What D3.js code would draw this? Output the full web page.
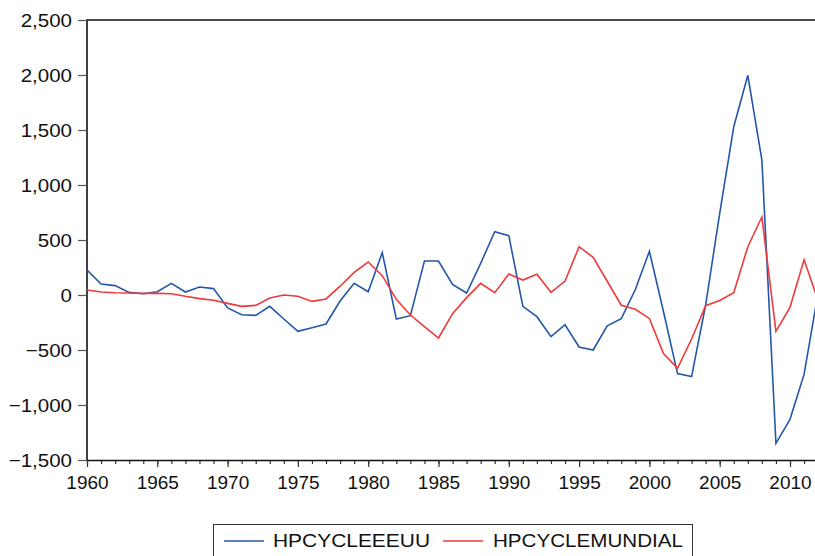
<!DOCTYPE html>
<html>
<head>
<meta charset="utf-8">
<script src="https://cdn.jsdelivr.net/npm/d3@7"></script>
<style>
  html, body { margin: 0; padding: 0; background: #fff; }
  svg { display: block; font-family: "Liberation Sans", Arial, sans-serif; }
</style>
</head>
<body>
<svg id="chart" width="815" height="556"></svg>
<script>
const years = d3.range(1960, 2013);
const hpEEUU = [
  227, 100, 85, 24, 12, 30, 106, 27, 73, 58,
  -118, -179, -185, -103, -218, -330, -297, -264, -55, 106,
  30, 385, -218, -188, 309, 309, 97, 18, 288, 576,
  539, -103, -197, -379, -270, -473, -500, -280, -215, 50,
  397, -150, -715, -742, -91, 742, 1530, 1997, 1227, -1348,
  -1130, -722, 20
];
const hpMundial = [
  45, 27, 21, 18, 15, 15, 12, -12, -33, -48,
  -76, -103, -94, -27, 0, -12, -58, -36, 80, 206,
  300, 176, -39, -182, -288, -391, -170, -24, 106, 21,
  191, 136, 188, 24, 127, 439, 342, 125, -93, -130,
  -213, -533, -667, -400, -97, -50, 21, 439, 709, -330,
  -112, 320, -50
];
const yTicks = [-1500, -1000, -500, 0, 500, 1000, 1500, 2000, 2500];
const xMajor = [1960, 1965, 1970, 1975, 1980, 1985, 1990, 1995, 2000, 2005, 2010];
const seriesNames = ["HPCYCLEEEUU", "HPCYCLEMUNDIAL"];
const seriesColors = ["#2457aa", "#ee3a3a"];

(function () {
const svg = d3.select("#chart");
const mLeft = 87, mTop = 20, mBottom = 460;
const x = d3.scaleLinear().domain([1960, 2012]).range([mLeft, mLeft + 52 * 14.06]);
const y = d3.scaleLinear().domain([-1500, 2500]).range([mBottom, mTop]);
const mRight = x(2012);

// frame
svg.append("path")
  .attr("d", `M${mLeft},${mBottom}V${mTop}H${mRight + 5}`)
  .attr("fill", "none").attr("stroke", "#111").attr("stroke-width", 1.6);

// y axis
const yAxis = d3.axisLeft(y).tickValues(yTicks).tickSize(9).tickPadding(6)
  .tickFormat(d3.format(","));
const gy = svg.append("g").attr("transform", `translate(${mLeft},0)`).call(yAxis);
gy.select(".domain").remove();
gy.selectAll(".tick line").attr("stroke", "#555").attr("stroke-width", 1.2);
gy.selectAll(".tick text").attr("font-size", 19).attr("fill", "#111")
  .attr("font-family", "Liberation Sans, Arial, sans-serif");

// x axis
const xAxisMinor = d3.axisBottom(x).tickValues(years).tickSize(4).tickFormat("");
const gxm = svg.append("g").attr("transform", `translate(0,${mBottom})`).call(xAxisMinor);
gxm.select(".domain").remove();
gxm.selectAll(".tick line").attr("stroke", "#333").attr("stroke-width", 1.2);

const xAxis = d3.axisBottom(x).tickValues(xMajor).tickSize(7).tickPadding(9).tickFormat(d3.format("d"));
const gx = svg.append("g").attr("transform", `translate(0,${mBottom})`).call(xAxis);
gx.select(".domain").attr("d", `M${mLeft},0.5H${mRight + 5}`).attr("stroke", "#111").attr("stroke-width", 1.6);
gx.selectAll(".tick line").attr("stroke", "#333").attr("stroke-width", 1.2);
gx.selectAll(".tick text").attr("font-size", 19).attr("fill", "#111")
  .attr("font-family", "Liberation Sans, Arial, sans-serif");

// lines
const line = d3.line().x((d, i) => x(years[i])).y(d => y(d));
[hpEEUU, hpMundial].forEach((s, k) => {
  svg.append("path").datum(s)
    .attr("d", line)
    .attr("fill", "none")
    .attr("stroke", seriesColors[k])
    .attr("stroke-width", 1.6)
    .attr("stroke-linejoin", "miter");
});

// y labels slightly wide
gy.selectAll(".tick text").each(function() {
  const w = this.getComputedTextLength();
  d3.select(this).attr("textLength", w * 1.08).attr("lengthAdjust", "spacingAndGlyphs");
});

// legend
const lg = svg.append("g");
lg.append("rect").attr("x", 213.5).attr("y", 524.5).attr("width", 479).attr("height", 45)
  .attr("fill", "#fff").attr("stroke", "#333").attr("stroke-width", 1);
const legendItems = [
  { lx: 224, tx: 273, w: 157 },
  { lx: 443, tx: 493, w: 190 }
];
legendItems.forEach((it, k) => {
  lg.append("line").attr("x1", it.lx).attr("x2", it.lx + 40).attr("y1", 541).attr("y2", 541)
    .attr("stroke", seriesColors[k]).attr("stroke-width", 1.6);
  lg.append("text").attr("x", it.tx).attr("y", 547).attr("font-size", 19).attr("fill", "#111")
    .attr("textLength", it.w).attr("lengthAdjust", "spacingAndGlyphs")
    .text(seriesNames[k]);
});
})();
</script>
</body>
</html>
